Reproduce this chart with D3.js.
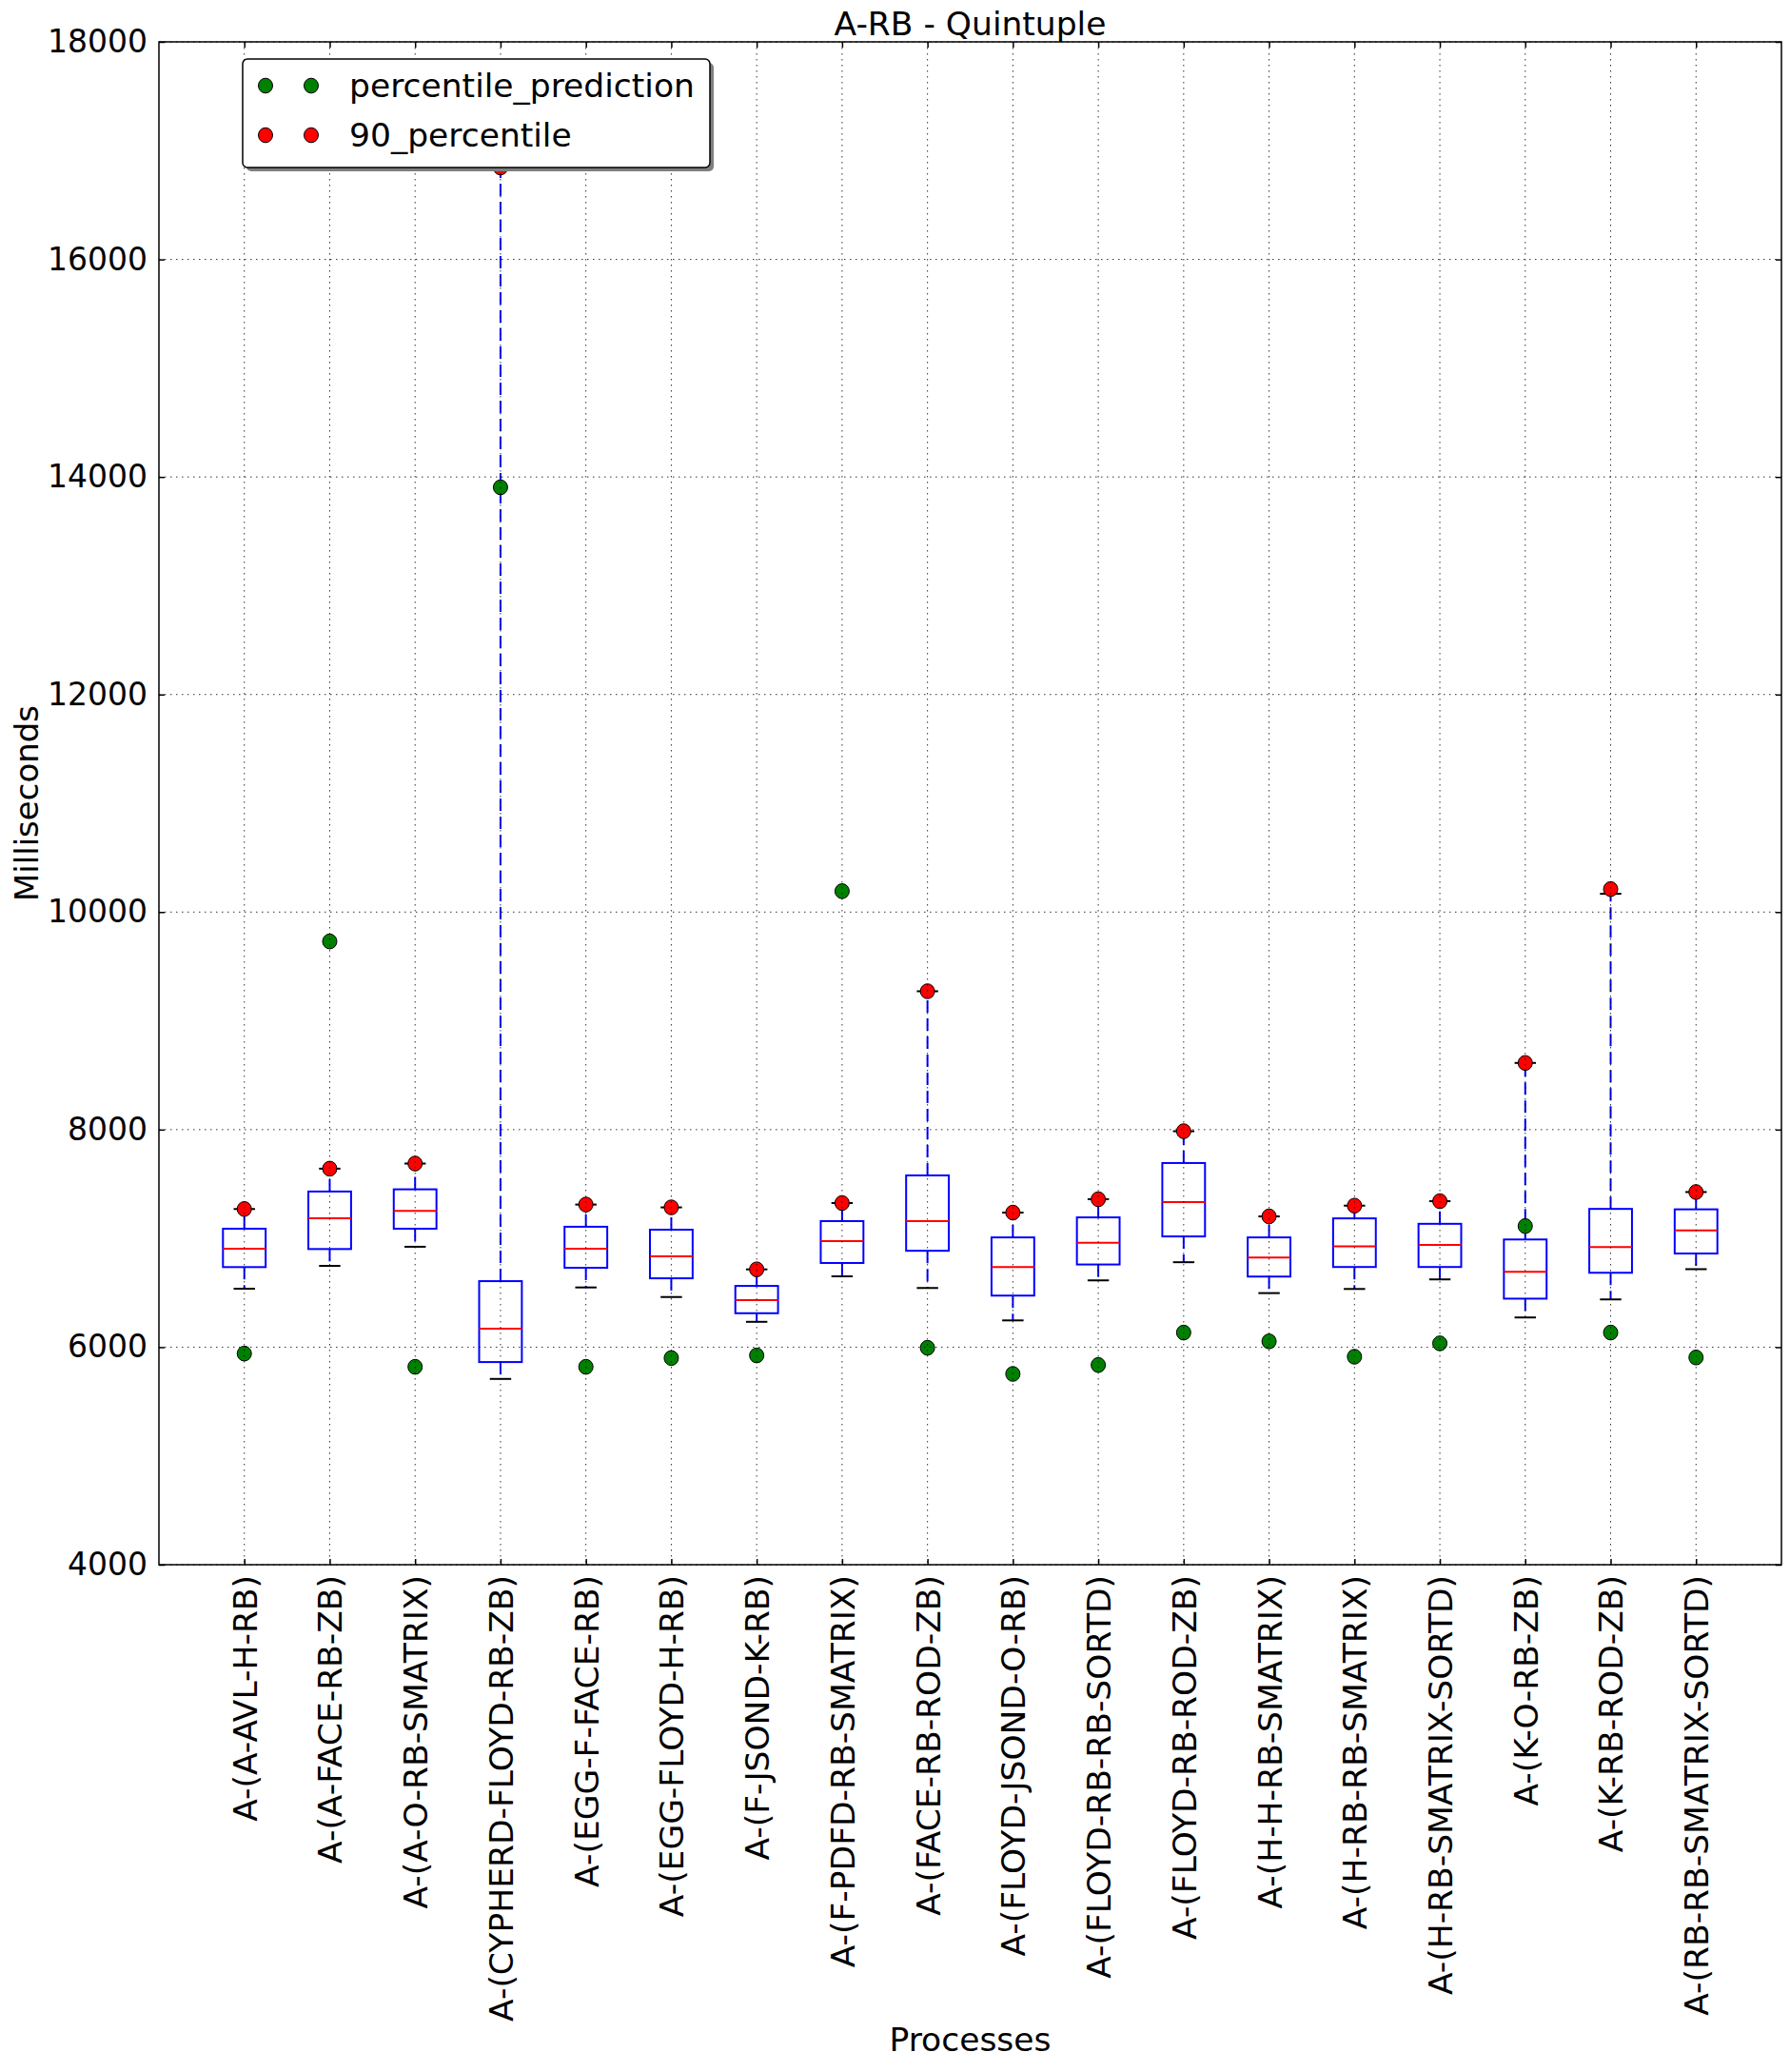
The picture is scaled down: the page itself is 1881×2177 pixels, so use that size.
<!DOCTYPE html>
<html>
<head>
<meta charset="utf-8">
<script src="https://cdn.jsdelivr.net/npm/d3@7"></script>
<style>
  html, body { margin: 0; padding: 0; background: #fff; }
  svg { display: block; }
  text { font-family: "DejaVu Sans", sans-serif; fill: #000; }
</style>
</head>
<body>
<svg id="chart" width="1881" height="2177"></svg>
<script>
const categories = [
  "A-(A-AVL-H-RB)", "A-(A-FACE-RB-ZB)", "A-(A-O-RB-SMATRIX)", "A-(CYPHERD-FLOYD-RB-ZB)",
  "A-(EGG-F-FACE-RB)", "A-(EGG-FLOYD-H-RB)", "A-(F-JSOND-K-RB)", "A-(F-PDFD-RB-SMATRIX)",
  "A-(FACE-RB-ROD-ZB)", "A-(FLOYD-JSOND-O-RB)", "A-(FLOYD-RB-RB-SORTD)", "A-(FLOYD-RB-ROD-ZB)",
  "A-(H-H-RB-SMATRIX)", "A-(H-RB-RB-SMATRIX)", "A-(H-RB-SMATRIX-SORTD)", "A-(K-O-RB-ZB)",
  "A-(K-RB-ROD-ZB)", "A-(RB-RB-SMATRIX-SORTD)"
];
const whiskerLow  = [6537, 6747, 6923, 5708, 6549, 6461, 6233, 6651, 6544, 6246, 6614, 6781, 6497, 6535, 6623, 6273, 6439, 6717];
const q1          = [6736, 6902, 7089, 5863, 6730, 6633, 6312, 6774, 6886, 6474, 6760, 7018, 6649, 6737, 6737, 6446, 6684, 6861];
const medians     = [6905, 7185, 7252, 6169, 6905, 6835, 6432, 6975, 7158, 6737, 6959, 7333, 6825, 6927, 6939, 6693, 6921, 7074];
const q3          = [7089, 7431, 7451, 6607, 7107, 7080, 6563, 7159, 7579, 7009, 7193, 7693, 7009, 7184, 7134, 6990, 7271, 7267];
const whiskerHigh = [7270, 7641, 7688, 16845, 7311, 7285, 6715, 7325, 9272, 7237, 7360, 7985, 7202, 7301, 7342, 8613, 10168, 7426];
const percentile90 = [7270, 7641, 7688, 16845, 7311, 7285, 6715, 7325, 9272, 7237, 7360, 7985, 7202, 7301, 7342, 8613, 10211, 7426];
const percentilePrediction = [5941, 9730, 5819, 13905, 5819, 5900, 5924, 10192, 5994, 5754, 5836, 6134, 6053, 5912, 6035, 7113, 6134, 5905];
const yTicks = [4000, 6000, 8000, 10000, 12000, 14000, 16000, 18000];
const seriesNames = ["percentile_prediction", "90_percentile"];
const seriesColors = ["#008000", "#ff0000"];
const titleText = "A-RB - Quintuple";
const xLabelText = "Processes";
const yLabelText = "Milliseconds";

const svg = d3.select("#chart");
const L = 167, R = 1872, T = 44, B = 1644;

svg.append("rect").attr("width", 1881).attr("height", 2177).attr("fill", "#fff");

const x = d3.scalePoint().domain(categories).range([L, R]).padding(1);
const y = d3.scaleLinear().domain([4000, 18000]).range([B, T]);
const boxW = x.step() * 0.5;
const capW = x.step() * 0.25;

const rows = categories.map((c, i) => ({
  c, wl: whiskerLow[i], q1: q1[i], med: medians[i], q3: q3[i], wh: whiskerHigh[i],
  p90: percentile90[i], pred: percentilePrediction[i]
}));

const data = svg.append("g");
// whiskers
data.selectAll(".wl").data(rows).join("line")
  .attr("x1", d => x(d.c)).attr("x2", d => x(d.c))
  .attr("y1", d => y(d.q1)).attr("y2", d => y(d.wl))
  .attr("stroke", "#0000ff").attr("stroke-width", 2).attr("stroke-dasharray", "13,6");
data.selectAll(".wh").data(rows).join("line")
  .attr("x1", d => x(d.c)).attr("x2", d => x(d.c))
  .attr("y1", d => y(d.q3)).attr("y2", d => y(d.wh))
  .attr("stroke", "#0000ff").attr("stroke-width", 2).attr("stroke-dasharray", "13,6");
// caps
["wl", "wh"].forEach(k => {
  data.selectAll(".cap" + k).data(rows).join("line")
    .attr("x1", d => x(d.c) - capW / 2).attr("x2", d => x(d.c) + capW / 2)
    .attr("y1", d => y(d[k])).attr("y2", d => y(d[k]))
    .attr("stroke", "#000").attr("stroke-width", 2);
});
// boxes
data.selectAll(".box").data(rows).join("rect")
  .attr("x", d => x(d.c) - boxW / 2).attr("width", boxW)
  .attr("y", d => y(d.q3)).attr("height", d => y(d.q1) - y(d.q3))
  .attr("fill", "none").attr("stroke", "#0000ff").attr("stroke-width", 2);
// medians
data.selectAll(".med").data(rows).join("line")
  .attr("x1", d => x(d.c) - boxW / 2).attr("x2", d => x(d.c) + boxW / 2)
  .attr("y1", d => y(d.med)).attr("y2", d => y(d.med))
  .attr("stroke", "#ff0000").attr("stroke-width", 2);
// points
data.selectAll(".pred").data(rows).join("ellipse")
  .attr("cx", d => x(d.c)).attr("cy", d => y(d.pred)).attr("rx", 7.5).attr("ry", 7.8)
  .attr("fill", seriesColors[0]).attr("stroke", "#000").attr("stroke-width", 1);
data.selectAll(".p90").data(rows).join("ellipse")
  .attr("cx", d => x(d.c)).attr("cy", d => y(d.p90)).attr("rx", 7.5).attr("ry", 7.8)
  .attr("fill", seriesColors[1]).attr("stroke", "#000").attr("stroke-width", 1);

// grid (drawn above data, classic style)
const grid = svg.append("g").attr("stroke", "#000").attr("stroke-width", 1)
  .attr("stroke-dasharray", "1.5,4.5").attr("opacity", 0.8);
grid.selectAll(".gx").data(categories).join("line")
  .attr("x1", d => x(d)).attr("x2", d => x(d)).attr("y1", T).attr("y2", B);
grid.selectAll(".gy").data(yTicks).join("line")
  .attr("x1", L).attr("x2", R).attr("y1", d => y(d)).attr("y2", d => y(d));

// axes
const axB = svg.append("g").attr("transform", `translate(0,${B})`)
  .call(d3.axisBottom(x).tickSizeInner(-6).tickSizeOuter(0).tickPadding(12));
axB.select(".domain").remove();
axB.selectAll("text")
  .attr("font-size", 34.5)
  .attr("transform", "rotate(-90)")
  .attr("text-anchor", "end")
  .attr("x", -11).attr("y", 0).attr("dy", "0.36em");
const axT = svg.append("g").attr("transform", `translate(0,${T})`)
  .call(d3.axisTop(x).tickSizeInner(-6).tickSizeOuter(0).tickFormat(""));
axT.select(".domain").remove();
const axL = svg.append("g").attr("transform", `translate(${L},0)`)
  .call(d3.axisLeft(y).tickValues(yTicks).tickSizeInner(-6).tickSizeOuter(0).tickPadding(12).tickFormat(d3.format("d")));
axL.select(".domain").remove();
axL.selectAll("text").attr("font-size", 33);
const axR = svg.append("g").attr("transform", `translate(${R},0)`)
  .call(d3.axisRight(y).tickValues(yTicks).tickSizeInner(-6).tickSizeOuter(0).tickFormat(""));
axR.select(".domain").remove();
svg.selectAll(".tick line").attr("stroke", "#000").attr("stroke-width", 1.5);
svg.selectAll(".tick text").attr("font-family", "DejaVu Sans").attr("fill", "#000");

// frame
svg.append("rect").attr("x", L).attr("y", T).attr("width", R - L).attr("height", B - T)
  .attr("fill", "none").attr("stroke", "#000").attr("stroke-width", 1.5);

// labels
svg.append("text").attr("x", (L + R) / 2).attr("y", 37).attr("text-anchor", "middle")
  .attr("font-size", 34.5).text(titleText);
svg.append("text").attr("x", (L + R) / 2).attr("y", 2155).attr("text-anchor", "middle")
  .attr("font-size", 34.5).text(xLabelText);
svg.append("text").attr("transform", `translate(40,${(T + B) / 2}) rotate(-90)`)
  .attr("text-anchor", "middle").attr("font-size", 34).text(yLabelText);

// legend
const lg = svg.append("g").attr("transform", "translate(255,62)");
lg.append("rect").attr("x", 4).attr("y", 4).attr("width", 491).attr("height", 114).attr("rx", 5)
  .attr("fill", "#7f7f7f");
lg.append("rect").attr("width", 491).attr("height", 114).attr("rx", 5)
  .attr("fill", "#fff").attr("stroke", "#000").attr("stroke-width", 1.5);
const items = lg.selectAll(".item").data(seriesNames).join("g")
  .attr("transform", (d, i) => `translate(0,${28 + i * 52})`);
items.each(function(d, i) {
  const g = d3.select(this);
  [24, 72].forEach(cx => g.append("ellipse").attr("cx", cx).attr("cy", 0).attr("rx", 7.5).attr("ry", 7.8)
    .attr("fill", seriesColors[i]).attr("stroke", "#000").attr("stroke-width", 1));
  g.append("text").attr("x", 112).attr("y", 12).attr("font-size", 34.5).text(d);
});
</script>
</body>
</html>
